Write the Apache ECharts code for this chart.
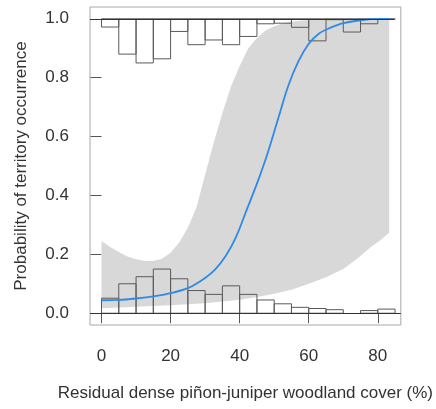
<!DOCTYPE html>
<html>
<head>
<meta charset="utf-8">
<script src="https://cdn.jsdelivr.net/npm/echarts@6/dist/echarts.min.js"></script>
<style>
  html, body { margin: 0; padding: 0; background: #fff; }
  #chart { width: 436px; height: 409px; }
</style>
</head>
<body>
<div id="chart"></div>
<script>
  // histogram bins (5% wide)
  var binEdges = [0, 5, 10, 15, 20, 25, 30, 35, 40, 45, 50, 55, 60, 65, 70, 75, 80, 85];
  // occupied sites, hanging from 1.0
  var presHeights = [0.028, 0.12, 0.15, 0.136, 0.043, 0.088, 0.072, 0.088, 0.06, 0.017, 0.015, 0.029, 0.075, 0.003, 0.045, 0.017, 0.002];
  // unoccupied sites, standing on 0.0
  var absHeights = [0.051, 0.100, 0.124, 0.150, 0.117, 0.077, 0.064, 0.093, 0.064, 0.045, 0.032, 0.020, 0.016, 0.012, 0, 0.009, 0.014];

  // fitted curve
  var curveX = [0, 5, 10, 15, 20, 25, 30, 33, 36, 39, 42, 45, 48, 51, 54, 57, 60, 63, 66, 70, 75, 80, 83.3];
  var curveY = [0.044, 0.045, 0.05, 0.057, 0.068, 0.085, 0.12, 0.15, 0.195, 0.26, 0.35, 0.44, 0.54, 0.655, 0.77, 0.855, 0.915, 0.95, 0.968, 0.985, 0.995, 1.0, 1.0];

  // confidence band
  var upperX = [0, 2.5, 5, 7.5, 10, 12.5, 15, 17.5, 20, 22.5, 25, 27.5, 30, 32.5, 35, 37.5, 40, 42.5, 45, 47.5, 50, 52.5, 55, 57.5, 60, 65, 70, 83.3];
  var upperY = [0.245, 0.225, 0.208, 0.193, 0.183, 0.177, 0.177, 0.185, 0.205, 0.24, 0.29, 0.36, 0.47, 0.58, 0.68, 0.77, 0.84, 0.9, 0.935, 0.96, 0.975, 0.985, 0.99, 0.993, 0.995, 0.998, 1.0, 1.0];
  var lowerX = [0, 10, 20, 30, 40, 45, 50, 55, 60, 65, 70, 74, 78, 81, 83.3];
  var lowerY = [0.017, 0.022, 0.027, 0.034, 0.046, 0.055, 0.066, 0.08, 0.1, 0.122, 0.15, 0.185, 0.225, 0.25, 0.273];

  var ticksX = [0, 20, 40, 60, 80];
  var ticksY = [0, 0.2, 0.4, 0.6, 0.8, 1.0];
  var tickLabelsY = ['0.0', '0.2', '0.4', '0.6', '0.8', '1.0'];

  var font = 'Liberation Sans, Arial, sans-serif';

  function histData(heights) {
    var out = [];
    for (var i = 0; i < heights.length; i++) {
      out.push([binEdges[i], binEdges[i + 1], heights[i]]);
    }
    return out;
  }

  function histRender(fromTop) {
    return function (params, api) {
      var h = api.value(2);
      if (!h) return null;
      var base = fromTop ? 1 : 0;
      var end = fromTop ? 1 - h : h;
      var p0 = api.coord([api.value(0), base]);
      var p1 = api.coord([api.value(1), end]);
      return {
        type: 'rect',
        shape: {
          x: p0[0],
          y: Math.min(p0[1], p1[1]),
          width: p1[0] - p0[0],
          height: Math.abs(p1[1] - p0[1])
        },
        style: { fill: 'none', stroke: '#5a5a5a', lineWidth: 1 }
      };
    };
  }

  var curveData = curveX.map(function (x, i) { return [x, curveY[i]]; });

  var option = {
    animation: false,
    grid: {
      left: 90, right: 31, top: 7, bottom: 84,
      show: true, borderColor: '#a8a8a8', borderWidth: 1, backgroundColor: '#fff'
    },
    xAxis: {
      type: 'value',
      min: -3.333, max: 86.667,
      axisLine: { show: false },
      splitLine: { show: false },
      axisTick: { show: true, length: 10, customValues: ticksX, lineStyle: { color: '#555' } },
      axisLabel: { customValues: ticksX, margin: 23, fontSize: 17, color: '#333', fontFamily: font },
      name: 'Residual dense piñon-juniper woodland cover (%)',
      nameLocation: 'middle',
      nameGap: 60,
      nameTextStyle: { fontSize: 17, color: '#333', fontFamily: font }
    },
    yAxis: {
      type: 'value',
      min: -0.04, max: 1.04,
      axisLine: { show: false },
      splitLine: { show: false },
      axisTick: { show: true, length: 11, customValues: ticksY, lineStyle: { color: '#555' } },
      axisLabel: {
        customValues: ticksY, margin: 21, fontSize: 17, color: '#333', fontFamily: font,
        formatter: function (v) { return tickLabelsY[ticksY.indexOf(v)] || v.toFixed(1); }
      },
      name: 'Probability of territory occurrence',
      nameLocation: 'middle',
      nameGap: 60,
      nameTextStyle: { fontSize: 17, color: '#333', fontFamily: font }
    },
    series: [
      {
        type: 'custom',
        name: 'band',
        data: [[0, 0]],
        silent: true,
        z: 1,
        renderItem: function (params, api) {
          var pts = [];
          for (var i = 0; i < upperX.length; i++) pts.push(api.coord([upperX[i], upperY[i]]));
          for (var j = lowerX.length - 1; j >= 0; j--) pts.push(api.coord([lowerX[j], lowerY[j]]));
          return {
            type: 'polygon',
            shape: { points: pts },
            style: { fill: '#d8d8d8', stroke: 'none' }
          };
        }
      },
      {
        type: 'custom',
        name: 'absent',
        data: histData(absHeights),
        encode: { x: [0, 1], y: 2 },
        silent: true,
        z: 2,
        renderItem: histRender(false),
        markLine: {
          silent: true,
          symbol: 'none',
          label: { show: false },
          lineStyle: { color: '#333', type: 'solid', width: 1 },
          data: [
            { yAxis: 0 },
            [{ coord: [-3.333, 1] }, { coord: [84.7, 1] }]
          ]
        }
      },
      {
        type: 'custom',
        name: 'present',
        data: histData(presHeights),
        encode: { x: [0, 1], y: 2 },
        silent: true,
        z: 2,
        renderItem: histRender(true)
      },
      {
        type: 'line',
        name: 'fit',
        data: curveData,
        smooth: 0.3,
        showSymbol: false,
        silent: true,
        z: 3,
        lineStyle: { color: '#2e8ae6', width: 1.8 }
      }
    ]
  };

  var chart = echarts.init(document.getElementById('chart'));
  chart.setOption(option);
</script>
</body>
</html>
